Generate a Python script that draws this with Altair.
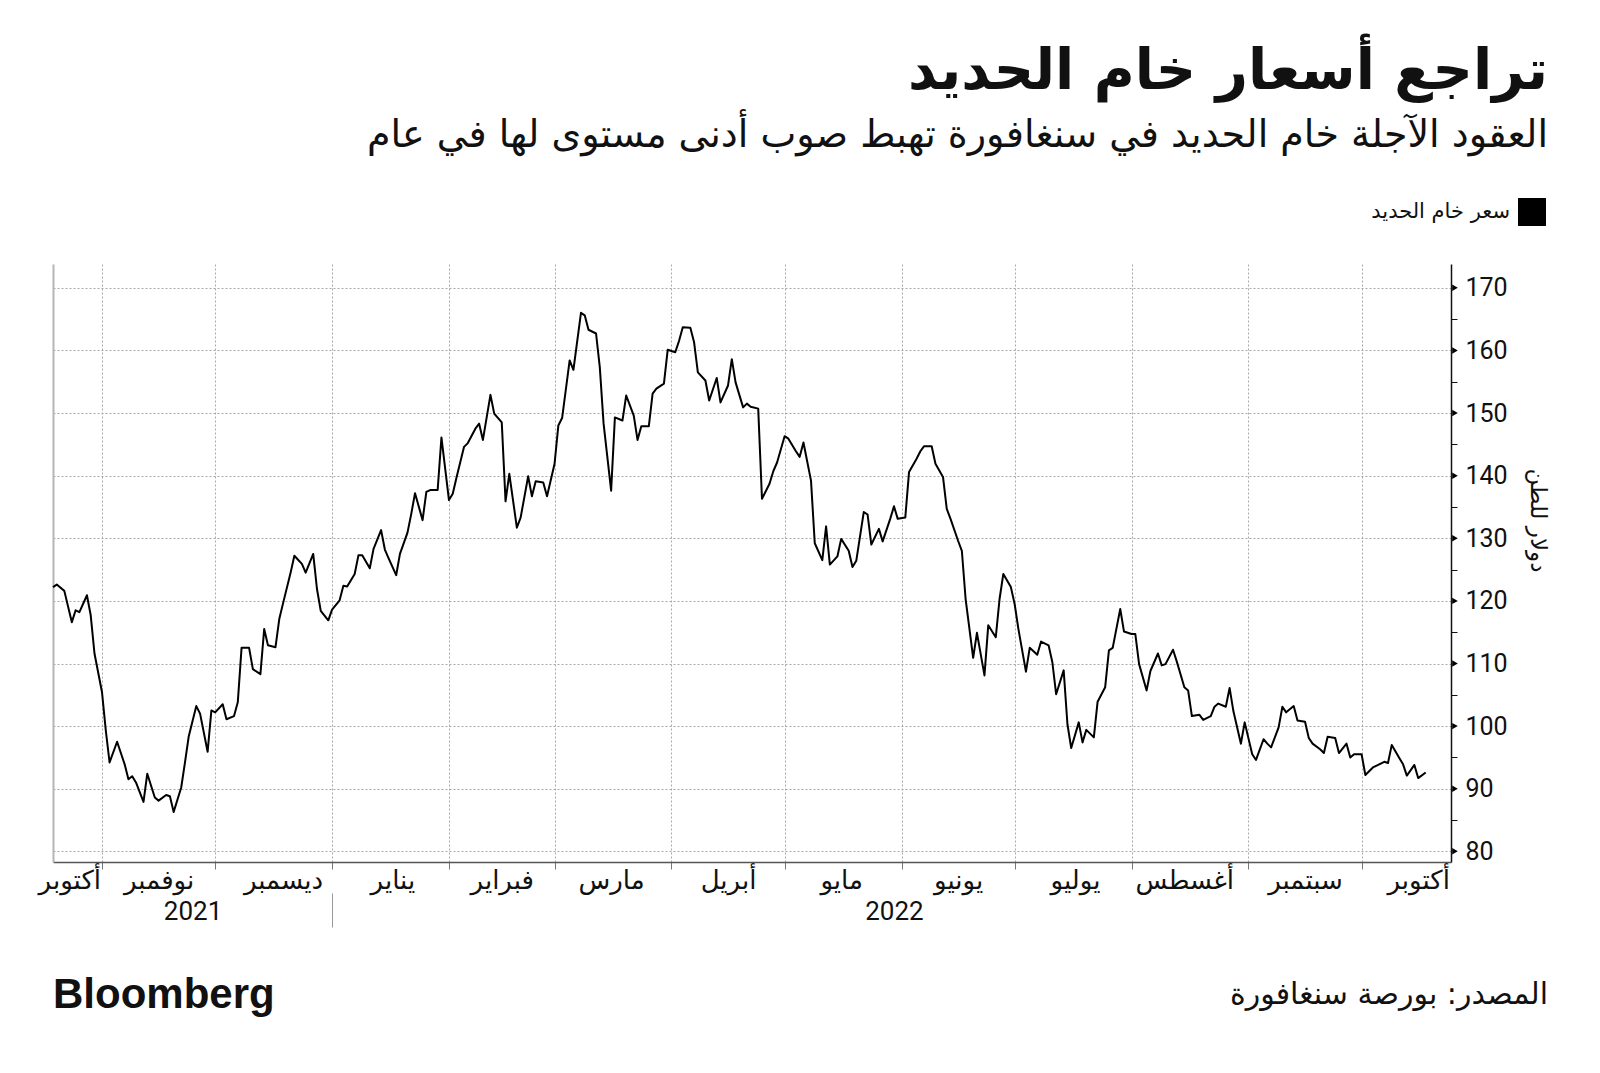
import json
import pandas as pd
import altair as alt

# ---------------- data ----------------
DATES = [
    "2021-10-19", "2021-10-20", "2021-10-22", "2021-10-24", "2021-10-25", "2021-10-26", "2021-10-28", "2021-10-29", "2021-10-30",
    "2021-11-01", "2021-11-02", "2021-11-03", "2021-11-05", "2021-11-07", "2021-11-08", "2021-11-09", "2021-11-10", "2021-11-12",
    "2021-11-13", "2021-11-15", "2021-11-16", "2021-11-18", "2021-11-19", "2021-11-20", "2021-11-22", "2021-11-23", "2021-11-24",
    "2021-11-26", "2021-11-27", "2021-11-29", "2021-11-30",
    "2021-12-01", "2021-12-03", "2021-12-04", "2021-12-06", "2021-12-07", "2021-12-08", "2021-12-10", "2021-12-11", "2021-12-13",
    "2021-12-14", "2021-12-15", "2021-12-17", "2021-12-18", "2021-12-19", "2021-12-21", "2021-12-22", "2021-12-24", "2021-12-25",
    "2021-12-27", "2021-12-28", "2021-12-29", "2021-12-31",
    "2022-01-01", "2022-01-03", "2022-01-04", "2022-01-05", "2022-01-07", "2022-01-08", "2022-01-09", "2022-01-11", "2022-01-12",
    "2022-01-14", "2022-01-15", "2022-01-16", "2022-01-18", "2022-01-19", "2022-01-21", "2022-01-22", "2022-01-23", "2022-01-25",
    "2022-01-26", "2022-01-27", "2022-01-29", "2022-01-30",
    "2022-02-01", "2022-02-02", "2022-02-03", "2022-02-05", "2022-02-06", "2022-02-08", "2022-02-09", "2022-02-10", "2022-02-12",
    "2022-02-13", "2022-02-15", "2022-02-16", "2022-02-17", "2022-02-19", "2022-02-20", "2022-02-22", "2022-02-23", "2022-02-24",
    "2022-02-26", "2022-02-27",
    "2022-03-01", "2022-03-02", "2022-03-03", "2022-03-05", "2022-03-06", "2022-03-08", "2022-03-09", "2022-03-10", "2022-03-12",
    "2022-03-13", "2022-03-14", "2022-03-16", "2022-03-17", "2022-03-19", "2022-03-20", "2022-03-22", "2022-03-23", "2022-03-24",
    "2022-03-26", "2022-03-27", "2022-03-28", "2022-03-30", "2022-03-31",
    "2022-04-02", "2022-04-03", "2022-04-04", "2022-04-06", "2022-04-07", "2022-04-08", "2022-04-10", "2022-04-11", "2022-04-13",
    "2022-04-14", "2022-04-16", "2022-04-17", "2022-04-18", "2022-04-20", "2022-04-21", "2022-04-22", "2022-04-24", "2022-04-25",
    "2022-04-27", "2022-04-28", "2022-04-29",
    "2022-05-01", "2022-05-02", "2022-05-04", "2022-05-05", "2022-05-06", "2022-05-08", "2022-05-09", "2022-05-11", "2022-05-12",
    "2022-05-13", "2022-05-15", "2022-05-16", "2022-05-18", "2022-05-19", "2022-05-20", "2022-05-22", "2022-05-23", "2022-05-24",
    "2022-05-26", "2022-05-27", "2022-05-29", "2022-05-30", "2022-05-31",
    "2022-06-02", "2022-06-03", "2022-06-05", "2022-06-06", "2022-06-07", "2022-06-09", "2022-06-10", "2022-06-12", "2022-06-13",
    "2022-06-14", "2022-06-16", "2022-06-17", "2022-06-18", "2022-06-20", "2022-06-21", "2022-06-23", "2022-06-24", "2022-06-26",
    "2022-06-27", "2022-06-28", "2022-06-30",
    "2022-07-01", "2022-07-02", "2022-07-04", "2022-07-05", "2022-07-07", "2022-07-08", "2022-07-10", "2022-07-11", "2022-07-12",
    "2022-07-14", "2022-07-15", "2022-07-16", "2022-07-18", "2022-07-19", "2022-07-20", "2022-07-22", "2022-07-23", "2022-07-25",
    "2022-07-26", "2022-07-27", "2022-07-29", "2022-07-30",
    "2022-08-01", "2022-08-02", "2022-08-03", "2022-08-05", "2022-08-06", "2022-08-08", "2022-08-09", "2022-08-10", "2022-08-12",
    "2022-08-13", "2022-08-15", "2022-08-16", "2022-08-17", "2022-08-19", "2022-08-20", "2022-08-22", "2022-08-23", "2022-08-24",
    "2022-08-26", "2022-08-27", "2022-08-28", "2022-08-30", "2022-08-31",
    "2022-09-02", "2022-09-03", "2022-09-05", "2022-09-06", "2022-09-07", "2022-09-09", "2022-09-10", "2022-09-11", "2022-09-13",
    "2022-09-14", "2022-09-16", "2022-09-17", "2022-09-18", "2022-09-20", "2022-09-21", "2022-09-22", "2022-09-24", "2022-09-25",
    "2022-09-27", "2022-09-28", "2022-09-29",
    "2022-10-01", "2022-10-02", "2022-10-04", "2022-10-05", "2022-10-07", "2022-10-08", "2022-10-09", "2022-10-11", "2022-10-12",
    "2022-10-13", "2022-10-15", "2022-10-16", "2022-10-18",
]

PRICES = [
    122.2, 122.6, 121.6, 116.6, 118.5, 118.2, 120.9, 117.7, 111.6,
    105.4, 99.3, 94.2, 97.5, 93.9, 91.5, 92.0, 91.0, 87.9, 92.4, 88.6, 88.1, 89.0, 88.8, 86.3, 90.2, 94.2, 98.4,
    103.2, 102.0, 95.9, 102.5,
    102.2, 103.5, 101.1, 101.6, 103.8, 112.5, 112.5, 109.1, 108.3, 115.5, 112.9, 112.6, 117.1, 119.6, 124.5, 127.2,
    125.9, 124.5, 127.5, 121.9, 118.4, 116.9,
    118.6, 120.1, 122.4, 122.3, 124.3, 127.3, 127.3, 125.2, 128.3, 131.3, 128.2, 126.8, 124.1, 127.5, 130.9, 133.9,
    137.2, 132.9, 137.4, 137.7, 137.7, 146.1,
    136.1, 137.1, 139.7, 144.6, 145.2, 147.5, 148.3, 145.7, 152.9, 149.9, 148.5, 135.9, 140.3, 131.7, 133.3, 139.9,
    136.7, 139.1, 138.9, 136.7,
    141.9, 148.0, 149.2, 158.4, 156.9, 166.0, 165.6, 163.3, 162.7, 157.3, 148.3, 137.6, 149.3, 148.8, 152.8, 149.6,
    145.7, 147.9, 147.9, 153.1, 153.9, 154.7, 160.1,
    159.7, 161.5, 163.7, 163.6, 161.3, 156.5, 155.2, 152.0, 155.6, 151.7, 154.4, 158.6, 154.9, 150.9, 151.5, 151.0,
    150.7, 136.3, 138.7, 140.7, 142.1,
    146.3, 145.9, 143.9, 143.0, 145.3, 139.2, 129.2, 126.5, 131.9, 125.8, 127.1, 129.9, 128.0, 125.4, 126.4, 134.2,
    133.8, 129.0, 131.5, 129.5, 133.1, 135.1, 133.1,
    133.3, 140.6, 142.7, 143.9, 144.7, 144.7, 141.9, 139.8, 134.7, 133.1, 129.6, 128.0, 120.3, 110.9, 114.9, 108.1,
    116.1, 114.2, 120.3, 124.3, 122.2,
    119.5, 115.5, 108.7, 112.5, 111.4, 113.5, 112.9, 110.2, 105.1, 108.9, 100.3, 96.5, 100.6, 97.4, 99.4, 98.2,
    103.9, 106.2, 112.1, 112.5, 118.7, 115.1,
    114.7, 114.7, 109.9, 105.7, 108.8, 111.6, 109.7, 109.9, 112.2, 110.3, 106.2, 105.7, 101.6, 101.8, 101.0, 101.6,
    103.1, 103.6, 103.1, 106.1, 102.4, 97.2, 100.6,
    95.5, 94.6, 97.9, 97.2, 96.6, 99.8, 103.1, 102.2, 103.2, 100.9, 100.7, 98.1, 97.2, 96.3, 95.7, 98.3, 98.1, 95.7,
    97.2, 95.0, 95.5,
    95.5, 92.2, 93.4, 93.7, 94.3, 94.1, 97.0, 94.9, 93.9, 92.1, 93.8, 91.7, 92.6,
]
assert len(DATES) == len(PRICES)

MONTH_NAMES = ["يناير", "فبراير", "مارس", "أبريل", "مايو", "يونيو",
               "يوليو", "أغسطس", "سبتمبر", "أكتوبر", "نوفمبر", "ديسمبر"]
MONTH_STARTS = ["2021-11-01", "2021-12-01", "2022-01-01", "2022-02-01", "2022-03-01", "2022-04-01",
                "2022-05-01", "2022-06-01", "2022-07-01", "2022-08-01", "2022-09-01", "2022-10-01"]
MONTH_LABEL_DATES = ["2021-10-23T08", "2021-11-16", "2021-12-19", "2022-01-17", "2022-02-15", "2022-03-16",
                     "2022-04-16", "2022-05-16", "2022-06-16", "2022-07-17", "2022-08-15", "2022-09-16",
                     "2022-10-16"]
YEAR_LABEL_DATES = ["2021-11-25", "2022-05-30"]
YEAR_BREAK = ["2022-01-01"]
X_DOMAIN = ["2021-10-19", "2022-10-24T17"]
Y_TICKS = [80, 90, 100, 110, 120, 130, 140, 150, 160, 170]
Y_MINOR = [85, 95, 105, 115, 125, 135, 145, 155, 165]
Y_DOMAIN = [78.3, 173.8]

TITLE = "تراجع أسعار خام الحديد"
SUBTITLE = "العقود الآجلة خام الحديد في سنغافورة تهبط صوب أدنى مستوى لها في عام"
SERIES = "سعر خام الحديد"
Y_TITLE = "دولار للطن"
SOURCE = "المصدر: بورصة سنغافورة"
BRAND = "Bloomberg"

# ---------------- layout ----------------
W, H = 1398, 598
PAD = {"left": 53, "top": 264, "right": 149, "bottom": 211}
AR_FONT = "DejaVu Sans"
NUM_FONT = "Roboto"
GRID = "#a8a8a8"


def dt(s):
    d, _, h = s.partition("T")
    y, m, dd = (int(p) for p in d.split("-"))
    kw = dict(year=y, month=m, date=dd)
    if h:
        kw["hours"] = int(h)
    return alt.DateTime(**kw)


def to_ts(lst):
    return pd.to_datetime([s if "T" not in s else s + ":00" for s in lst], format="ISO8601")


xscale = alt.Scale(domain=[dt(s) for s in X_DOMAIN])
yscale = alt.Scale(domain=Y_DOMAIN, nice=False, zero=False)

df = pd.DataFrame({"date": to_ts(DATES), "price": PRICES})

line = alt.Chart(df).mark_line(color="black", strokeWidth=2, strokeJoin="round").encode(
    x=alt.X("date:T", scale=xscale, axis=alt.Axis(
        orient="bottom", values=[dt(s) for s in MONTH_STARTS], labels=False, title=None,
        grid=True, gridColor=GRID, gridDash=[2, 2], gridWidth=1,
        ticks=True, tickSize=7, tickColor="#777777", tickWidth=1,
        domain=True, domainColor="#555555", domainWidth=1.5)),
    y=alt.Y("price:Q", scale=yscale, axis=alt.Axis(
        orient="right", values=Y_TICKS, format="d", title=Y_TITLE,
        grid=True, gridColor=GRID, gridDash=[2, 2], gridWidth=1,
        ticks=False, labelPadding=14, labelFont=NUM_FONT, labelFontSize=25, labelColor="#111111",
        domain=True, domainColor="#111111", domainWidth=1.5,
        titleFont=AR_FONT, titleFontSize=23, titleFontWeight="normal", titleColor="#111111",
        titleAngle=90, titleX=86, titleY=256, titleAlign="center", titleBaseline="middle")),
)

month_df = pd.DataFrame({"d": to_ts(MONTH_LABEL_DATES)})
month_labels = alt.Chart(month_df).mark_point(opacity=0).encode(
    x=alt.X("d:T", scale=xscale, axis=alt.Axis(
        orient="bottom", values=[dt(s) for s in MONTH_LABEL_DATES], title=None,
        labelExpr=json.dumps(MONTH_NAMES, ensure_ascii=False) + "[month(datum.value)]",
        labelFont=AR_FONT, labelFontSize=26, labelColor="#111111", labelPadding=5,
        labelOverlap=False, labelFlush=False, labelBound=False,
        ticks=False, tickSize=0, grid=False, domain=False)),
)

year_df = pd.DataFrame({"d": to_ts(YEAR_LABEL_DATES)})
year_labels = alt.Chart(year_df).mark_point(opacity=0).encode(
    x=alt.X("d:T", scale=xscale, axis=alt.Axis(
        orient="bottom", values=[dt(s) for s in YEAR_LABEL_DATES], title=None,
        labelExpr="year(datum.value)", labelFont=NUM_FONT, labelFontSize=26, labelColor="#111111",
        labelPadding=36, labelOverlap=False, labelFlush=False, labelBound=False,
        ticks=False, tickSize=0, grid=False, domain=False)),
)

break_df = pd.DataFrame({"d": to_ts(YEAR_BREAK)})
year_break = alt.Chart(break_df).mark_point(opacity=0).encode(
    x=alt.X("d:T", scale=xscale, axis=alt.Axis(
        orient="bottom", values=[dt(s) for s in YEAR_BREAK], title=None, labels=False,
        offset=31, ticks=True, tickSize=34, tickColor="#999999", tickWidth=1,
        grid=False, domain=False)),
)

tick_df = pd.DataFrame({"v": Y_TICKS})
major_ticks = alt.Chart(tick_df).mark_point(
    shape="triangle-right", filled=True, size=42, color="black", opacity=1).encode(
    x=alt.value(W + 4),
    y=alt.Y("v:Q", scale=yscale, axis=alt.Axis(
        orient="left", labels=False, ticks=False, grid=False, title=None,
        domain=True, domainColor="#b5b5b5", domainWidth=2)),
)

minor_df = pd.DataFrame({"v": Y_MINOR})
minor_ticks = alt.Chart(minor_df).mark_point(opacity=0).encode(
    y=alt.Y("v:Q", scale=yscale, axis=alt.Axis(
        orient="right", values=Y_MINOR, labels=False, title=None, grid=False, domain=False,
        ticks=True, tickSize=6, tickColor="#111111", tickWidth=1)),
)


def text_layer(txt, x, y, size, align="right", weight="normal", font=AR_FONT, color="#111111"):
    return alt.Chart(pd.DataFrame({"t": [txt]})).mark_text(
        align=align, baseline="middle", fontSize=size, fontWeight=weight, font=font, color=color
    ).encode(text="t:N", x=alt.value(x), y=alt.value(y))


RIGHT = 1548 - PAD["left"]
title = text_layer(TITLE, RIGHT, 72 - PAD["top"], 56, weight="bold")
subtitle = text_layer(SUBTITLE, RIGHT, 136 - PAD["top"], 38)
legend_text = text_layer(SERIES, 1510 - PAD["left"], 212 - PAD["top"], 21)
legend_sq = alt.Chart(pd.DataFrame({"s": [SERIES]})).mark_square(
    size=784, color="black", filled=True, opacity=1).encode(
    x=alt.value(1532 - PAD["left"]), y=alt.value(212 - PAD["top"]))
brand = text_layer(BRAND, 0, 995 - PAD["top"], 42, align="left", weight="bold", font="Liberation Sans")
source = text_layer(SOURCE, RIGHT, 995 - PAD["top"], 30)

chart = alt.layer(
    line, month_labels, year_labels, year_break, major_ticks, minor_ticks,
    title, subtitle, legend_text, legend_sq, brand, source,
).resolve_axis(x="independent", y="independent").properties(
    width=W, height=H, padding=PAD, autosize=alt.AutoSizeParams(type="none"), background="white",
).configure_view(stroke=None)

chart.save("out.html", embed_options={"renderer": "svg", "actions": False})
